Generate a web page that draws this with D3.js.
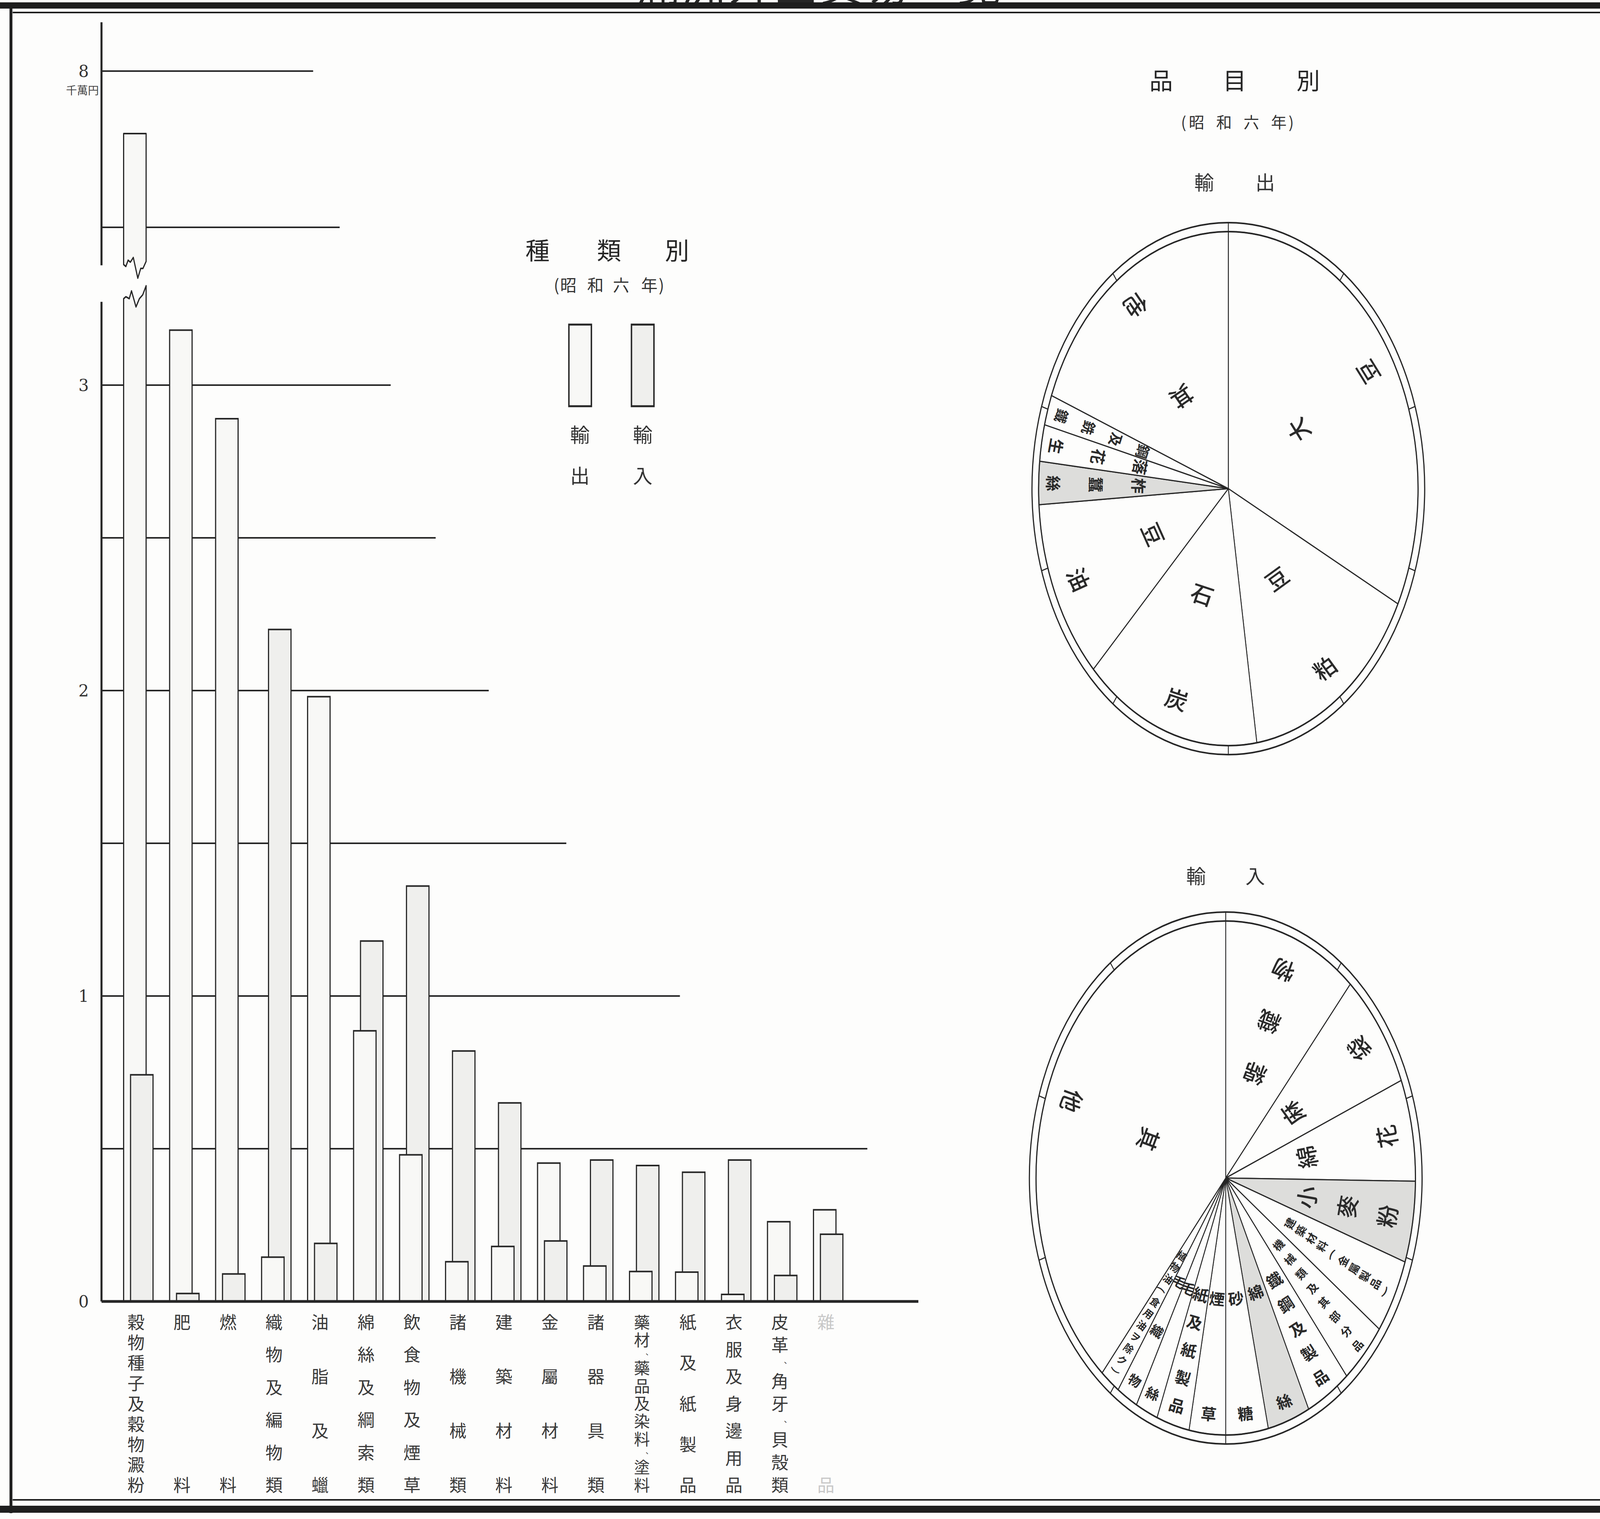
<!DOCTYPE html>
<html>
<head>
<meta charset="utf-8">
<script src="https://cdn.jsdelivr.net/npm/d3@7"></script>
<style>
  html, body { margin: 0; padding: 0; background: #fdfdfc; overflow: hidden; }
  svg { display: block; width: 100vw; height: 100vh; }
</style>
</head>
<body>
<svg id="chart"></svg>
<script>
// ---- data: 種類別 (昭和六年), 單位 千萬円 ----
const categories = [
  "穀物種子及穀物澱粉", "肥料", "燃料", "織物及編物類", "油脂及蠟", "綿絲及綱索類",
  "飲食物及煙草", "諸機械類", "建築材料", "金屬材料", "諸器具類",
  "藥材、藥品及染料、塗料", "紙及紙製品", "衣服及身邊用品", "皮革、角牙、貝殼類", "雜品"
];
const exportValues = [7.80, 3.18, 2.89, 0.145, 1.98, 0.886, 0.48, 0.13, 0.18, 0.453, 0.116, 0.098, 0.096, 0.023, 0.261, 0.30];
const importValues = [0.742, 0.026, 0.09, 2.20, 0.19, 1.18, 1.36, 0.82, 0.65, 0.198, 0.463, 0.445, 0.423, 0.463, 0.085, 0.22];
const tickValues = [0, 1, 2, 3, 8];
const gridValues = [0.5, 1, 1.5, 2, 2.5, 3, 7.5, 8];

// ---- data: 品目別 (昭和六年), 百分比 ----
const exportItems  = ["大豆", "豆粕", "石炭", "豆油", "柞蠶絲", "落花生", "鋼及銑鐵", "其他"];
const exportShares = [32.4, 15.2, 15.0, 11.4, 2.7, 2.3, 1.9, 19.1];
const exportShaded = ["柞蠶絲"];

const importItems  = ["綿織物", "麻袋", "綿花", "小麥粉", "建築材料(金屬製品)", "機械類及其部分品",
  "鐵鋼及製品", "綿絲", "砂糖", "煙草", "紙及紙製品", "毛絲", "毛織物", "植物油(食用油ヲ除ク)", "其他"];
const importShares = [11.4, 7.4, 6.4, 5.1, 4.7, 4.0, 3.8, 3.6, 3.6, 3.1, 2.8, 1.9, 1.8, 1.7, 38.7];
const importShaded = ["小麥粉", "綿絲"];

// ---- set up ----
const W = 5549, H = 3889;
const JP = "'Noto Sans CJK JP', 'Noto Sans CJK TC', sans-serif";
const NUM = "'DejaVu Serif', 'Liberation Serif', serif";
const ink = "#262626";
const paper = "#fdfdfc";
const exportFill = "#f8f8f6";
const importFill = "#efefed";
const pieShade = "#dddddb";

// the drawing fills the whole window; glyphs are counter-scaled so they keep their shape
const vw = window.innerWidth || W, vh = window.innerHeight || H;
const k = (vh / H) / (vw / W);

const svg = d3.select("#chart")
  .attr("viewBox", `0 0 ${W} ${H}`)
  .attr("preserveAspectRatio", "none");

svg.append("rect").attr("width", W).attr("height", H).attr("fill", paper);

function txt(g, px, py, str, size, opts) {
  opts = opts || {};
  return g.append("text")
    .attr("transform", `translate(${px},${py}) scale(${k},1) rotate(${opts.rot || 0})`)
    .attr("text-anchor", opts.anchor || "middle")
    .attr("dominant-baseline", opts.baseline || "central")
    .style("font-family", opts.family || JP)
    .style("font-size", (+size).toFixed(1) + "px")
    .style("font-weight", opts.weight || 400)
    .attr("fill", opts.color || ink)
    .text(str);
}

// title, mostly cut off by the top edge as in the print
const titleG = svg.append("g");
Array.from("滿洲外國貿易一覽").forEach((c, i) =>
  txt(titleG, 2283 + i * 159, 2, c, 110, { baseline: "alphabetic" }));

// ---- bar chart ----
const axisX = 352, baseY = 3332;
const x = d3.scaleBand().domain(categories).range([400, 400 + 159.5 * categories.length]);
const yLow = d3.scaleLinear().domain([0, 3.5]).range([baseY, baseY - 3.5 * 782]);
const yHigh = d3.scaleLinear().domain([7.5, 8]).range([582, 182]);
const breakLow = 3.283, breakHigh = 7.371;
function y(v) { return v <= breakLow ? yLow(v) : yHigh(v); }

// how far right each grid line runs
const gridEnd = { 0.5: 3008, 1: 2358, 1.5: 1964, 2: 1695, 2.5: 1511, 3: 1355, 7.5: 1178, 8: 1086 };

const chart = svg.append("g");

chart.selectAll("line.grid")
  .data(gridValues)
  .join("line")
  .attr("class", "grid")
  .attr("x1", axisX).attr("x2", d => gridEnd[d])
  .attr("y1", d => y(d)).attr("y2", d => y(d))
  .attr("stroke", ink).attr("stroke-width", 4);

// broken axis
chart.append("line")
  .attr("x1", axisX).attr("x2", axisX)
  .attr("y1", 57).attr("y2", yHigh(breakHigh) - 6)
  .attr("stroke", ink).attr("stroke-width", 7);
chart.append("line")
  .attr("x1", axisX).attr("x2", axisX)
  .attr("y1", yLow(breakLow) + 8).attr("y2", baseY)
  .attr("stroke", ink).attr("stroke-width", 7);

// tick labels
tickValues.forEach(v => txt(chart, 290, y(v), v, 42, { family: NUM, color: "#333" }));
txt(chart, 286, y(8) + 48, "千萬円", 28, { color: "#444" });

// zig-zag edges for the broken bar (fraction of width, y offset)
const zigLow = [[0, 0], [0.1, -5], [0.25, 0], [0.35, -20], [0.55, 21], [0.7, 0], [0.85, -10], [1, -33]];
const zigHigh = [[0, -8], [0.1, -3], [0.2, -19], [0.3, -14], [0.43, -26], [0.63, 27], [0.76, 2], [0.86, 2], [1, -16]];

const barW = 78;
const bars = chart.append("g");

function drawBar(b) {
  const fill = b.kind === "ex" ? exportFill : importFill;
  if (b.v > breakHigh) {
    const yl = yLow(breakLow), yh = yHigh(breakHigh);
    const low = d3.path();
    low.moveTo(b.x0, baseY);
    low.lineTo(b.x0, yl + zigLow[0][1]);
    zigLow.forEach(p => low.lineTo(b.x0 + p[0] * barW, yl + p[1]));
    low.lineTo(b.x0 + barW, baseY);
    bars.append("path").attr("d", low.toString())
      .attr("fill", fill).attr("stroke", ink).attr("stroke-width", 4).attr("stroke-linejoin", "round");
    const high = d3.path();
    high.moveTo(b.x0, y(b.v));
    high.lineTo(b.x0 + barW, y(b.v));
    zigHigh.slice().reverse().forEach(p => high.lineTo(b.x0 + p[0] * barW, yh + p[1]));
    high.closePath();
    bars.append("path").attr("d", high.toString())
      .attr("fill", fill).attr("stroke", ink).attr("stroke-width", 4).attr("stroke-linejoin", "round");
  } else {
    bars.append("rect")
      .attr("x", b.x0).attr("y", y(b.v))
      .attr("width", barW).attr("height", baseY - y(b.v))
      .attr("fill", fill).attr("stroke", ink).attr("stroke-width", 4);
  }
}

categories.forEach((c, i) => {
  const cx = x(c) + x.bandwidth() / 2;
  const pair = [
    { kind: "ex", v: exportValues[i], x0: cx - 51 },
    { kind: "im", v: importValues[i], x0: cx - 27 }
  ].sort((a, b) => b.v - a.v);
  pair.forEach(drawBar);
});

// base line
chart.append("line")
  .attr("x1", axisX).attr("x2", 3185)
  .attr("y1", baseY).attr("y2", baseY)
  .attr("stroke", ink).attr("stroke-width", 7);

// category labels, written vertically and spread over the same height;
// the ideographic comma takes a smaller slot than a full character
function verticalLabel(g, text, cx, yTop, yBot, size, color) {
  const chars = Array.from(text);
  const wt = c => c === "、" ? 0.6 : 1;
  let total = 0;
  for (let i = 1; i < chars.length; i++) total += (wt(chars[i - 1]) + wt(chars[i])) / 2;
  const step = total > 0 ? (yBot - yTop) / total : 0;
  const fit = Math.min(size, step * 0.9);
  let pos = yTop;
  chars.forEach((c, i) => {
    if (i > 0) pos += step * (wt(chars[i - 1]) + wt(c)) / 2;
    if (c === "、") {
      txt(g, cx + fit * 0.62, pos - fit * 0.1, c, fit * 0.45, { color });
    } else {
      txt(g, cx, pos, c, fit, { color });
    }
  });
}

const catLabels = chart.append("g");
categories.forEach((c, i) => {
  const cx = x(c) + x.bandwidth() / 2 - 8;
  verticalLabel(catLabels, c, cx, 3383, 3800, 44, i === categories.length - 1 ? "#c8c8c8" : "#3a3a3a");
});

// ---- legend 種類別 ----
const legend = svg.append("g");
function spacedText(g, chars, xs, yy, size, color) {
  chars.forEach((c, i) => txt(g, xs[i], yy, c, size, { color: color || ink }));
}
spacedText(legend, ["種", "類", "別"], [1864, 2112, 2348], 638, 62);
spacedText(legend, ["(", "昭", "和", "六", "年", ")"], [1930, 1971, 2065, 2154, 2252, 2294], 727, 42, "#333");
legend.append("rect").attr("x", 1973).attr("y", 831).attr("width", barW).attr("height", 209)
  .attr("fill", exportFill).attr("stroke", ink).attr("stroke-width", 5);
legend.append("rect").attr("x", 2190).attr("y", 831).attr("width", barW).attr("height", 209)
  .attr("fill", importFill).attr("stroke", ink).attr("stroke-width", 5);
spacedText(legend, ["輸", "輸"], [2011, 2229], 1110, 50, "#333");
spacedText(legend, ["出", "入"], [2011, 2229], 1215, 50, "#333");

// ---- pies 品目別 ----
const R = 658, R2 = 681;
const pies = svg.append("g");
spacedText(pies, ["品", "目", "別"], [4027, 4282, 4537], 202, 60);
spacedText(pies, ["(", "昭", "和", "六", "年", ")"], [4105, 4150, 4245, 4340, 4435, 4478], 311, 40, "#333");
spacedText(pies, ["輸", "出"], [4176, 4388], 464, 50, "#333");
spacedText(pies, ["輸", "入"], [4148, 4353], 2240, 50, "#333");

function drawPie(cx, cy, items, shares, shaded) {
  const g = pies.append("g").attr("transform", `translate(${cx},${cy})`);
  const arcs = d3.pie().sort(null).value(d => d.v)(items.map((n, i) => ({ name: n, v: shares[i] })));
  const arc = d3.arc().innerRadius(0).outerRadius(R);

  g.selectAll("path.slice")
    .data(arcs)
    .join("path")
    .attr("class", "slice")
    .attr("d", arc)
    .attr("fill", d => shaded.includes(d.data.name) ? pieShade : paper)
    .attr("stroke", ink)
    .attr("stroke-width", 3)
    .attr("stroke-linejoin", "round");

  g.append("circle").attr("r", R).attr("fill", "none").attr("stroke", ink).attr("stroke-width", 4);
  g.append("circle").attr("r", R2).attr("fill", "none").attr("stroke", ink).attr("stroke-width", 4);
  g.selectAll("line.ring")
    .data(d3.range(10))
    .join("line")
    .attr("class", "ring")
    .attr("x1", t => R * Math.sin(t * Math.PI / 5)).attr("y1", t => -R * Math.cos(t * Math.PI / 5))
    .attr("x2", t => R2 * Math.sin(t * Math.PI / 5)).attr("y2", t => -R2 * Math.cos(t * Math.PI / 5))
    .attr("stroke", ink).attr("stroke-width", 3);

  // labels run along the radius, read from the centre outward
  arcs.forEach(a => {
    const mid = (a.startAngle + a.endAngle) / 2;
    const span = a.endAngle - a.startAngle;
    const chars = Array.from(a.data.name);
    let size, r0, r1;
    if (chars.length >= 6) { size = 28; r0 = 0.38; r1 = 0.95; }
    else if (span < 0.26) { size = 40; r0 = 0.47; r1 = 0.92; }
    else { size = 58; r0 = 0.43; r1 = 0.86; }
    size = Math.min(size, span * R * r0 * 0.95);
    if (chars.length > 1) size = Math.min(size, R * (r1 - r0) / (chars.length - 1) * 0.85);
    chars.forEach((c, j) => {
      const t = chars.length > 1 ? j / (chars.length - 1) : 0.5;
      const r = R * (r0 + (r1 - r0) * t);
      let rot = mid * 180 / Math.PI + 180;
      if ("()".includes(c)) rot += 90;
      txt(g, r * Math.sin(mid), -r * Math.cos(mid), c, size,
        { rot, weight: size > 50 ? 500 : 600, color: "#2a2a2a" });
    });
  });
}

drawPie(4260, 1251, exportItems, exportShares, exportShaded);
drawPie(4251, 3016, importItems, importShares, importShaded);

// ---- frame ----
const frame = svg.append("g").attr("stroke", "#1e1e1e").attr("fill", "none");
frame.append("line").attr("x1", 0).attr("x2", W).attr("y1", 14).attr("y2", 14).attr("stroke-width", 16);
frame.append("line").attr("x1", 44).attr("x2", W).attr("y1", 32).attr("y2", 32).attr("stroke-width", 4);
frame.append("line").attr("x1", 38).attr("x2", 38).attr("y1", 6).attr("y2", 3874).attr("stroke-width", 10);
frame.append("line").attr("x1", 44).attr("x2", W).attr("y1", 3840).attr("y2", 3840).attr("stroke-width", 4);
frame.append("line").attr("x1", 0).attr("x2", W).attr("y1", 3864).attr("y2", 3864).attr("stroke-width", 18);
</script>
</body>
</html>
